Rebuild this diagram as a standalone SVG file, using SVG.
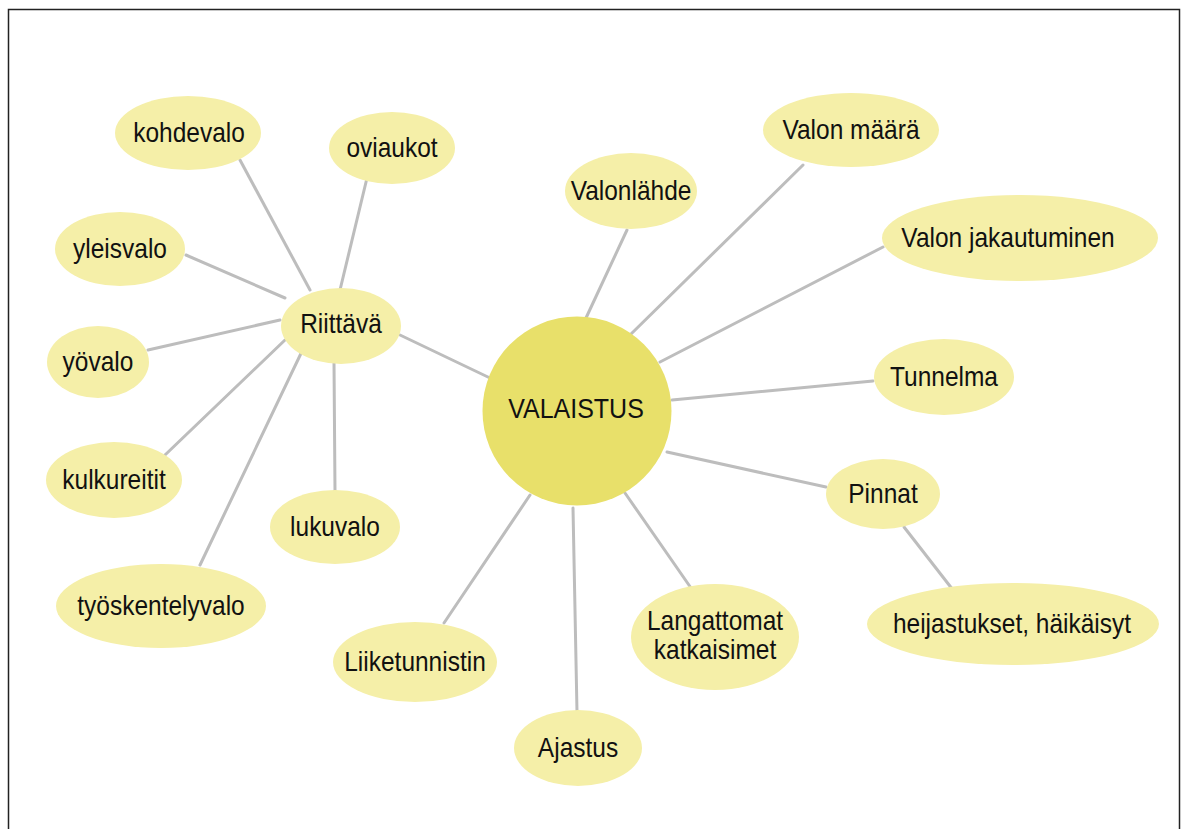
<svg xmlns="http://www.w3.org/2000/svg" width="1186" height="829" viewBox="0 0 1186 829">
  <style>
    .bubble { fill: #f5efa8; }
    .hub { fill: #e8e06a; }
    .link { stroke: #bdbdbd; stroke-width: 3; fill: none; stroke-linecap: round; }
    text { font-family: "Liberation Sans", Arial, sans-serif; font-size: 24.5px; fill: #111111; text-anchor: middle; }
    .hubtxt { font-size: 25px; }
  </style>
  <rect x="0" y="0" width="1186" height="829" fill="#ffffff"/>
  <rect x="8.5" y="9.5" width="1171" height="840" fill="none" stroke="#222" stroke-width="1.5"/>

  <g id="connectors">
    <line class="link" x1="400" y1="335" x2="490" y2="378"/>
    <line class="link" x1="240" y1="160" x2="310" y2="290"/>
    <line class="link" x1="367" y1="178" x2="340" y2="290"/>
    <line class="link" x1="186" y1="255" x2="285" y2="298"/>
    <line class="link" x1="148" y1="350" x2="280" y2="320"/>
    <line class="link" x1="165" y1="455" x2="285" y2="340"/>
    <line class="link" x1="200" y1="565" x2="305" y2="345"/>
    <line class="link" x1="335" y1="492" x2="334" y2="362"/>
    <line class="link" x1="627" y1="230" x2="586" y2="318"/>
    <line class="link" x1="803" y1="165" x2="630" y2="335"/>
    <line class="link" x1="883" y1="247" x2="660" y2="362"/>
    <line class="link" x1="873" y1="381" x2="672" y2="400"/>
    <line class="link" x1="826" y1="487" x2="667" y2="452"/>
    <line class="link" x1="904" y1="527" x2="953" y2="590"/>
    <line class="link" x1="691" y1="588" x2="625" y2="493"/>
    <line class="link" x1="573" y1="508" x2="577" y2="712"/>
    <line class="link" x1="530" y1="495" x2="444" y2="623"/>
  </g>

  <!-- labels are stretched slightly taller than the regular font proportions -->
  <g id="valaistus">
    <circle class="hub" cx="577" cy="411" r="94.5"/>
    <text class="hubtxt" transform="translate(576,418) scale(1,1.12)">VALAISTUS</text>
  </g>
  <g id="riittava">
    <ellipse class="bubble" cx="341" cy="326" rx="60" ry="38"/>
    <text transform="translate(341,333) scale(1,1.12)">Riittävä</text>
  </g>
  <g id="kohdevalo">
    <ellipse class="bubble" cx="188" cy="133" rx="73" ry="37"/>
    <text transform="translate(189,142) scale(1,1.12)">kohdevalo</text>
  </g>
  <g id="oviaukot">
    <ellipse class="bubble" cx="392" cy="148" rx="63" ry="36"/>
    <text transform="translate(392,157) scale(1,1.12)">oviaukot</text>
  </g>
  <g id="yleisvalo">
    <ellipse class="bubble" cx="120" cy="249" rx="65" ry="37"/>
    <text transform="translate(120,258) scale(1,1.12)">yleisvalo</text>
  </g>
  <g id="yovalo">
    <ellipse class="bubble" cx="98" cy="362" rx="51" ry="36"/>
    <text transform="translate(98,371) scale(1,1.12)">yövalo</text>
  </g>
  <g id="kulkureitit">
    <ellipse class="bubble" cx="114" cy="480" rx="68" ry="38"/>
    <text transform="translate(114,489) scale(1,1.12)">kulkureitit</text>
  </g>
  <g id="lukuvalo">
    <ellipse class="bubble" cx="335" cy="527" rx="65" ry="37"/>
    <text transform="translate(335,536) scale(1,1.12)">lukuvalo</text>
  </g>
  <g id="tyoskentelyvalo">
    <ellipse class="bubble" cx="161" cy="606" rx="105" ry="42"/>
    <text transform="translate(161,615) scale(1,1.12)">työskentelyvalo</text>
  </g>
  <g id="valonlahde">
    <ellipse class="bubble" cx="631" cy="191" rx="66" ry="38"/>
    <text transform="translate(631,200) scale(1,1.12)">Valonlähde</text>
  </g>
  <g id="valon-maara">
    <ellipse class="bubble" cx="851" cy="130" rx="88" ry="37"/>
    <text transform="translate(851,139) scale(1,1.12)">Valon määrä</text>
  </g>
  <g id="valon-jakautuminen">
    <ellipse class="bubble" cx="1020" cy="238" rx="138" ry="43"/>
    <text transform="translate(1008,247) scale(1,1.12)">Valon jakautuminen</text>
  </g>
  <g id="tunnelma">
    <ellipse class="bubble" cx="944" cy="377" rx="70" ry="38"/>
    <text transform="translate(944,386) scale(1,1.12)">Tunnelma</text>
  </g>
  <g id="pinnat">
    <ellipse class="bubble" cx="883" cy="494" rx="57" ry="35"/>
    <text transform="translate(883,503) scale(1,1.12)">Pinnat</text>
  </g>
  <g id="heijastukset">
    <ellipse class="bubble" cx="1013" cy="624" rx="146" ry="41"/>
    <text transform="translate(1012,633) scale(1,1.12)">heijastukset, häikäisyt</text>
  </g>
  <g id="langattomat">
    <ellipse class="bubble" cx="715" cy="637" rx="84" ry="53"/>
    <text transform="translate(715,630) scale(1,1.12)">Langattomat</text>
    <text transform="translate(715,659) scale(1,1.12)">katkaisimet</text>
  </g>
  <g id="liiketunnistin">
    <ellipse class="bubble" cx="415" cy="662" rx="82" ry="40"/>
    <text transform="translate(415,671) scale(1,1.12)">Liiketunnistin</text>
  </g>
  <g id="ajastus">
    <ellipse class="bubble" cx="578" cy="748" rx="64" ry="38"/>
    <text transform="translate(578,757) scale(1,1.12)">Ajastus</text>
  </g>
</svg>
